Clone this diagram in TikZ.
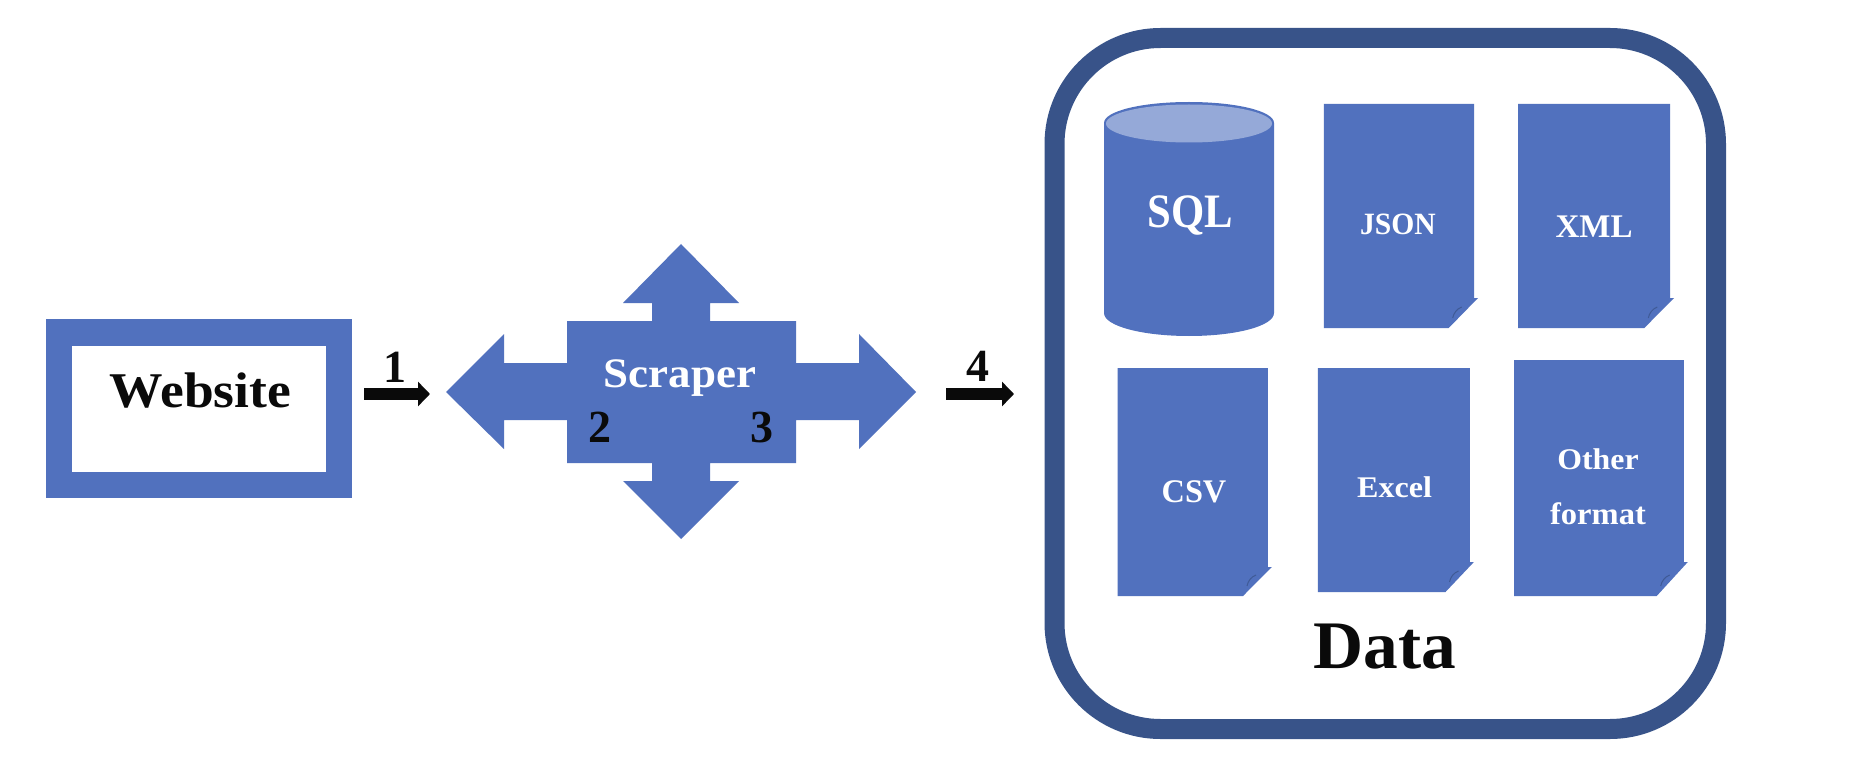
\documentclass[tikz,border=0pt]{standalone}
\usepackage{fontspec}
\usepackage{graphicx}
\setmainfont{Liberation Serif}
\usetikzlibrary{arrows.meta}
\definecolor{bluefill}{HTML}{5171BE}
\definecolor{frameblue}{HTML}{385389}
\definecolor{lidblue}{HTML}{95A9D8}
\definecolor{foldmark}{HTML}{3F5A96}
\definecolor{inkblack}{HTML}{0A0A0A}
\tikzset{
  x=1pt,y=-1pt,
  lab/.style={anchor=base,inner sep=0pt,outer sep=0pt,font=\bfseries\fontsize{#1}{#1}\selectfont},
  darklab/.style={lab=#1,text=inkblack},
  whitelab/.style={lab=#1,text=white},
  foldline/.style={draw=foldmark,line width=1pt},
  gap/.style={draw=inkblack,line width=12pt,-{Triangle[length=12pt,width=24pt]}},
}
\newcommand{\docshape}[7]{% name, left, top, right, bottom, fold y, cut x
  \fill[bluefill] (#2,#3) -- (#4,#3) -- (#4,#6) -- (#4+4,#6) -- (#7,#5) -- (#2,#5) -- cycle;
  \draw[foldline] (#7+4,#5-10) .. controls (#7+5,#5-15) and (#7+8,#5-19) .. (#7+13,#5-21);
  \coordinate (#1) at (#2,#3);
}
\begin{document}
\begin{tikzpicture}
\useasboundingbox[fill=white] (0,0) rectangle (1858,770);
% Website
\draw[draw=bluefill,line width=26.5pt,fill=white] (59,332.5) rectangle (339,485);
\node[darklab=50] (website) at (200.5,407) {\scalebox{1.07}[1]{Website}};
% Scraper cross
\fill[bluefill] (446,392) -- (504,334) -- (504,363) -- (567,363) -- (567,321) -- (652,321) -- (652,303) -- (623,303)
  -- (681,244) -- (739,303) -- (710,303) -- (710,321) -- (796,321) -- (796,363) -- (859,363) -- (859,334)
  -- (916,392) -- (859,449) -- (859,420) -- (796,420) -- (796,463) -- (710,463) -- (710,481) -- (739,481)
  -- (681,539) -- (623,481) -- (652,481) -- (652,463) -- (567,463) -- (567,420) -- (504,420) -- (504,449) -- cycle;
\node[whitelab=42] (scraper) at (680,387) {\scalebox{1.07}[1]{Scraper}};
\node[darklab=46] (two) at (600,442) {2};
\node[darklab=46] (three) at (762,442) {3};
% Arrows
\coordinate (a1s) at (364,394);
\coordinate (a1e) at (430,394);
\coordinate (a4s) at (946,394);
\coordinate (a4e) at (1014,394);
\draw[gap] (a1s) -- (a1e);
\draw[gap] (a4s) -- (a4e);
\node[darklab=46] (one) at (395,382) {1};
\node[darklab=46] (four) at (978,381) {4};
% Data frame
\draw[draw=frameblue,line width=20pt,fill=white,rounded corners=106pt] (1054.5,38) rectangle (1716,729);
% Cylinder
\fill[bluefill] (1104,123) .. controls (1104,111) and (1142,102) .. (1189,102) .. controls (1236,102) and (1274,111) .. (1274,123)
  -- (1274,313) .. controls (1274,326) and (1236,336) .. (1189,336) .. controls (1142,336) and (1104,326) .. (1104,313) -- cycle;
\fill[lidblue] (1189,123.5) ellipse [x radius=83pt,y radius=19pt];
\node[whitelab=48] (sql) at (1190.7,228) {\scalebox{.89}[1]{SQL}};
% Documents
\docshape{docjson}{1323.8}{104}{1474}{328}{298}{1448.7}
\docshape{docxml}{1518}{104}{1670}{328}{298}{1644.3}
\docshape{doccsv}{1117.7}{368}{1267.8}{596}{567}{1243}
\docshape{docexcel}{1317.9}{368}{1469.9}{592}{562}{1445.5}
\docshape{docother}{1514}{360}{1683.8}{596}{562}{1656.7}
\node[whitelab=31] (json) at (1398,234) {\scalebox{.955}[1]{JSON}};
\node[whitelab=33] (xml) at (1594,238) {XML};
\node[whitelab=33] (csv) at (1194,502) {\scalebox{.98}[1]{CSV}};
\node[whitelab=30] (excel) at (1394.6,497) {\scalebox{1.07}[1]{Excel}};
\node[whitelab=30] (other) at (1598,469) {\scalebox{1.06}[1]{Other}};
\node[whitelab=31] (format) at (1598,524) {\scalebox{1.05}[1]{format}};
\node[darklab=68] (data) at (1384.5,668) {\scalebox{1.02}[1]{Data}};
\end{tikzpicture}
\end{document}
